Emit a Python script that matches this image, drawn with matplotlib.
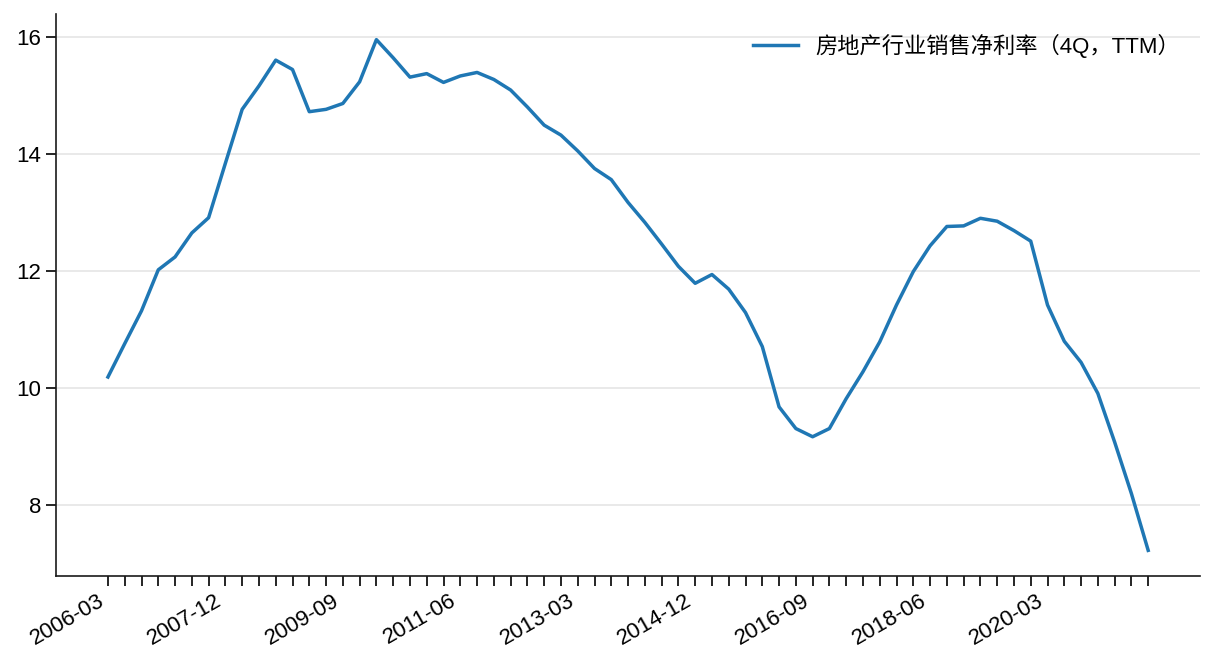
import matplotlib
matplotlib.use("Agg")
import matplotlib.pyplot as plt
import pandas as pd

plt.rcParams['font.family'] = ['Liberation Sans', 'Noto Sans CJK SC', 'DejaVu Sans']
plt.rcParams['axes.unicode_minus'] = False

series_name = "房地产行业销售净利率（4Q，TTM）"
quarters = pd.period_range("2006Q1", "2021Q3", freq="Q")
dates = [f"{p.year}-{p.quarter * 3:02d}" for p in quarters]
values = [
    10.19, 10.76, 11.32, 12.02, 12.24, 12.65, 12.91, 13.84, 14.76, 15.16,
    15.60, 15.44, 14.72, 14.76, 14.86, 15.23, 15.95, 15.64, 15.31, 15.37,
    15.22, 15.33, 15.39, 15.27, 15.09, 14.80, 14.49, 14.32, 14.05, 13.75,
    13.56, 13.17, 12.83, 12.46, 12.08, 11.79, 11.94, 11.69, 11.29, 10.71,
    9.68, 9.31, 9.17, 9.31, 9.82, 10.28, 10.79, 11.42, 11.99, 12.43,
    12.76, 12.77, 12.90, 12.85, 12.69, 12.51, 11.42, 10.80, 10.44, 9.91,
    9.08, 8.20, 7.23,
]
label_step = 7

fig = plt.figure(figsize=(12.16, 6.72), dpi=100)
ax = fig.add_axes([0.046, 0.143, 0.941, 0.836])

x = list(range(len(dates)))
ax.plot(x, values, color="#1f77b4", lw=2.5, label=series_name)

ax.set_xticks(x)
ax.set_xticklabels([d if i % label_step == 0 else "" for i, d in enumerate(dates)],
                   rotation=30, ha="right", fontsize=16)
ax.set_yticks([8, 10, 12, 14, 16])
ax.tick_params(axis="y", labelsize=16, length=7, width=1.2)
ax.tick_params(axis="x", length=7, width=1.2)

ax.grid(axis="y", color="#e5e5e5", lw=1.2)
ax.set_axisbelow(True)
for s in ["top", "right"]:
    ax.spines[s].set_visible(False)
for s in ["left", "bottom"]:
    ax.spines[s].set_linewidth(1.2)
    ax.spines[s].set_color("#1a1a1a")

ax.legend(loc="upper right", frameon=False, fontsize=16)

fig.savefig("out.png", dpi=100)
